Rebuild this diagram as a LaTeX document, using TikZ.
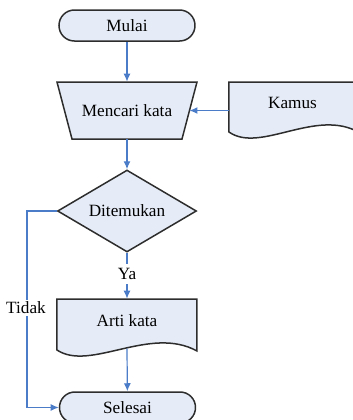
\documentclass[tikz,border=0pt]{standalone}
\usepackage{fontspec}
\setmainfont{Liberation Serif}
\usetikzlibrary{shapes.geometric,arrows.meta}
\definecolor{isian}{RGB}{230,236,247}
\definecolor{garis}{RGB}{74,124,200}
\definecolor{tepi}{RGB}{45,45,45}
\tikzset{
  terminal/.style={draw=tepi, fill=isian, line width=0.75pt, rounded corners=7.7pt,
    minimum width=68pt, minimum height=15.5pt, inner sep=0pt},
  keputusan/.style={diamond, aspect=1.7, draw=tepi, fill=isian, line width=0.75pt,
    minimum width=69.5pt, minimum height=41pt, inner sep=0pt},
  bentuk/.style={draw=tepi, fill=isian, line width=0.75pt},
  isi/.style={inner sep=0pt},
  panah/.style={draw=garis, line width=0.6pt, -{Latex[length=4pt,width=3.5pt]}},
  jalur/.style={draw=garis, line width=0.6pt}
}
\begin{document}
\begin{tikzpicture}[x=0.5pt,y=-0.5pt,font=\fontsize{8.6}{10}\selectfont]
        \useasboundingbox (0,0) rectangle (353,420);
        %mulai
        \node[terminal] (mulai) at (127,25.5) {Mulai};
        %mencari kata
        \draw[bentuk] (57,82) -- (197,82) -- (182,139) -- (72,139) -- cycle;
        \node[isi, minimum width=70pt, minimum height=28.5pt] (mencari) at (127,110.5) {Mencari kata};
        \coordinate (mencarikanan) at (189.5,110.5);
        %kamus
        \draw[bentuk] (229,82) -- (360,82) -- (360,133)
            .. controls (317,107) and (260,154) .. (229,132) -- cycle;
        \node[isi, minimum width=63.5pt, minimum height=21pt] (kamus) at (292.5,103) {Kamus};
        %ditemukan
        \node[keputusan] (ditemukan) at (127,211) {Ditemukan};
        \node[inner sep=2pt] (ya) at (127,274) {Ya};
        %arti kata
        \draw[bentuk] (57,299) -- (197,299) -- (197,351)
            .. controls (150,325) and (90,372) .. (57,350) -- cycle;
        \node[isi, minimum width=70pt, minimum height=22pt] (arti) at (127,321) {Arti kata};
        \coordinate (artibawah) at (127,348.5);
        %selesai
        \node[terminal] (selesai) at (127.5,407.5) {Selesai};
        %panah
        \draw[panah] (mulai) -- (mencari);
        \draw[panah] (kamus.west |- mencarikanan) -- (mencarikanan);
        \draw[panah] (mencari) -- (ditemukan);
        \draw[jalur] (ditemukan) -- (ya);
        \draw[panah] (ya) -- (arti);
        \draw[panah] (artibawah) -- (selesai);
        %tidak
        \coordinate (belok) at (27,211);
        \draw[panah] (ditemukan.west) -- (belok) |- (selesai.west);
        \node[fill=white, inner sep=1pt] (tidak) at (26,308) {Tidak};
    \end{tikzpicture}
\end{document}
